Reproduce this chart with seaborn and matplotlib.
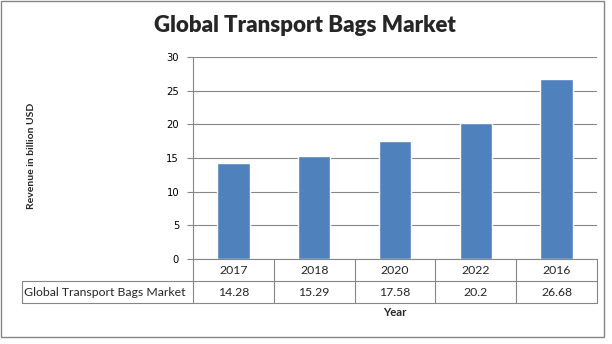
import matplotlib
matplotlib.use("Agg")
import matplotlib.pyplot as plt
import matplotlib.transforms as mtransforms
from matplotlib.patches import Rectangle
import seaborn as sns
import pandas as pd

years = ["2017", "2018", "2020", "2022", "2016"]
revenue = [14.28, 15.29, 17.58, 20.2, 26.68]
value_labels = ["14.28", "15.29", "17.58", "20.2", "26.68"]
series_name = "Global Transport Bags Market"
y_ticks = [0, 5, 10, 15, 20, 25, 30]

df = pd.DataFrame({"Year": years, "Revenue": revenue})

sns.set_theme(style="white")
plt.rcParams["font.family"] = ["Lato", "DejaVu Sans"]

W, H = 612, 344
fig = plt.figure(figsize=(W / 100, H / 100), dpi=100)
fig.patch.set_facecolor("white")

left, right, top, bottom = 193, 597, 57, 259
ax = fig.add_axes([left / W, 1 - bottom / H, (right - left) / W, (bottom - top) / H])

grey = "#868686"
sns.barplot(data=df, x="Year", y="Revenue", color="#4F81BD", width=0.4,
            saturation=1, ax=ax, zorder=3)

ax.set_ylim(0, 30)
ax.set_xlim(-0.5, len(years) - 0.5)
ax.set_yticks(y_ticks)
ax.set_yticklabels([str(t) for t in y_ticks], fontfamily="DejaVu Sans", fontsize=7.2)
ax.yaxis.grid(True, color=grey, linewidth=0.8, zorder=0)
ax.set_xticks([])
ax.set_xlabel("")
ax.set_ylabel("")
for s in ["top", "right", "bottom"]:
    ax.spines[s].set_visible(False)
ax.spines["left"].set_color(grey)
ax.spines["left"].set_linewidth(0.8)
ax.tick_params(axis="y", which="major", left=True, length=4, width=0.8,
               color=grey, pad=6, labelcolor="black")

# Data table under the plot
row_h = 22 / (bottom - top)
trans = mtransforms.blended_transform_factory(ax.transData, ax.transAxes)
x_left_fig = 22 / W
fig_x_to_data = lambda fx: ax.transData.inverted().transform(
    fig.transFigure.transform((fx, 0)))[0]
x_head = fig_x_to_data(x_left_fig)
n = len(years)
lw = 0.8
ax.plot([-0.5, n - 0.5], [0, 0], transform=trans, color=grey, lw=lw, clip_on=False)
ax.plot([x_head, n - 0.5], [-row_h, -row_h], transform=trans, color=grey, lw=lw, clip_on=False)
ax.plot([x_head, n - 0.5], [-2 * row_h, -2 * row_h], transform=trans, color=grey, lw=lw, clip_on=False)
for i in range(n + 1):
    ax.plot([i - 0.5, i - 0.5], [0, -2 * row_h], transform=trans, color=grey, lw=lw, clip_on=False)
ax.plot([x_head, x_head], [-row_h, -2 * row_h], transform=trans, color=grey, lw=lw, clip_on=False)

fs_table = 8.8
for i, (yr, lab) in enumerate(zip(years, value_labels)):
    ax.text(i, -row_h / 2, yr, transform=trans, ha="center", va="center", fontsize=fs_table)
    ax.text(i, -1.5 * row_h, lab, transform=trans, ha="center", va="center", fontsize=fs_table)
ax.text(x_head + 0.03, -1.5 * row_h, series_name, transform=trans, ha="left", va="center",
        fontsize=fs_table)

fig.text(0.5 * (left + right) / W, 1 - 312 / H, "Year", ha="center", va="center",
         fontsize=8.2, fontweight="bold")
fig.text(31 / W, 1 - 156 / H, "Revenue in billion USD", ha="center", va="center",
         rotation=90, fontsize=7.5, fontweight="bold")
fig.text(305 / W, 1 - 26 / H, "Global Transport Bags Market", ha="center", va="center",
         fontsize=16, fontweight="heavy")

# chart frame
fig.patches.append(Rectangle((1 / W, 1 - 337 / H), 603 / W, 336 / H, transform=fig.transFigure,
                             fill=False, edgecolor=grey, linewidth=1.0))

fig.savefig("out.png", dpi=100)
